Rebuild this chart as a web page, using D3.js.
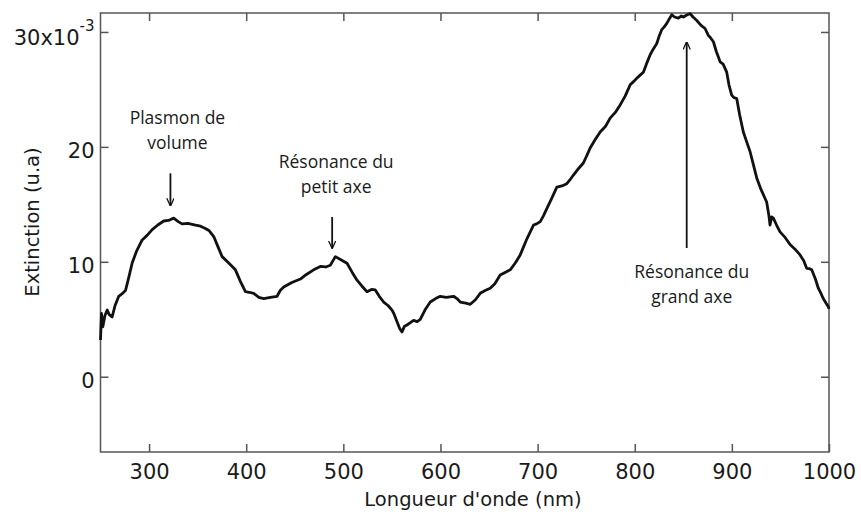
<!DOCTYPE html>
<html>
<head>
<meta charset="utf-8">
<script src="https://cdn.jsdelivr.net/npm/d3@7"></script>
<style>
  body { margin: 0; background: #fff; }
  .tick-label { font-family: "DejaVu Sans", Verdana, sans-serif; font-size: 21px; fill: #1a1a1a; }
  .axis-title { font-family: "DejaVu Sans", Verdana, sans-serif; font-size: 19.5px; fill: #1a1a1a; }
  .note { font-family: "Open Sans", "Noto Sans", sans-serif; font-size: 17.5px; fill: #1a1a1a; }
</style>
</head>
<body>
<div id="chart"></div>
<script>
// wavelength (nm)
const wavelength = [250, 251, 252.4, 254.5, 256.9, 259, 262, 265, 268.8, 272, 275.7, 279, 282.6, 287, 292.9, 298, 303.2, 309, 315.1, 320,
  325.4, 330, 334, 340, 347.7, 353, 358, 362, 366.6, 371, 375.2, 382, 388.9, 394, 399.2, 403, 407.7, 413, 418, 425,
  431.8, 435, 438.6, 447, 455.8, 462, 469.4, 476.3, 482, 486.6, 491.8, 497, 503.8, 509, 514.1, 519, 524.4, 529, 532.9, 537,
  541.5, 546, 550.1, 552, 555.2, 558, 560.4, 563, 565.5, 569, 572.3, 576, 579.2, 584, 589.5, 595, 599.8, 606, 613.5, 617,
  620.4, 626, 630.7, 636, 640.9, 646, 651.2, 656, 661.5, 667, 671.8, 677, 682.1, 689, 695.8, 699, 702.7, 706, 709.6, 715,
  719.8, 725, 730.1, 733, 736.9, 742, 747.1, 751, 754.1, 759, 764.4, 770, 774.7, 780, 785, 790, 795.3, 799, 802.1, 805,
  808.9, 812, 815.8, 819, 822.7, 825, 827.8, 830, 833, 836, 838.2, 841, 845, 848, 850.1, 854, 857, 860, 863.9, 868,
  872.4, 875.8, 878, 881, 884, 887.9, 891, 894.7, 897, 899.8, 902, 905, 908, 911.8, 915, 918.7, 922, 925.6, 930,
  935.8, 938, 939.3, 941, 942.7, 946, 949.6, 955, 959.9, 965, 970.2, 974, 977, 980, 982.2, 986, 989, 992, 994.1, 997, 999.3, 1000];

// extinction (x10^-3)
const extinction = [3.2, 5.5, 4.35, 5.3, 5.8, 5.4, 5.2, 6.2, 7.0, 7.2, 7.5, 8.6, 9.9, 10.9, 11.9, 12.3, 12.8, 13.2, 13.55, 13.6,
  13.8, 13.5, 13.3, 13.35, 13.2, 13.1, 12.9, 12.7, 12.2, 11.3, 10.45, 9.9, 9.3, 8.3, 7.4, 7.35, 7.26, 6.9, 6.8, 6.9,
  7.0, 7.5, 7.8, 8.2, 8.5, 8.9, 9.3, 9.6, 9.55, 9.7, 10.45, 10.2, 9.87, 9.1, 8.4, 7.9, 7.4, 7.6, 7.55, 7.0,
  6.5, 6.2, 5.8, 5.5, 4.8, 4.2, 3.9, 4.4, 4.5, 4.7, 4.9, 4.8, 5.0, 5.8, 6.5, 6.8, 7.0, 6.9, 7.0, 6.8,
  6.5, 6.4, 6.3, 6.7, 7.26, 7.5, 7.7, 8.1, 8.85, 9.1, 9.3, 9.9, 10.6, 12.0, 13.2, 13.3, 13.5, 14.0, 14.65, 15.6,
  16.5, 16.6, 16.8, 17.1, 17.55, 18.1, 18.6, 19.3, 19.9, 20.6, 21.3, 21.8, 22.5, 23.0, 23.65, 24.4, 25.4, 25.7, 25.97, 26.2,
  26.5, 27.2, 28.0, 28.5, 29.0, 29.6, 30.2, 30.4, 30.75, 31.2, 31.5, 31.3, 31.2, 31.4, 31.3, 31.5, 31.6, 31.3, 31.0, 30.6,
  30.3, 29.7, 29.5, 29.15, 28.3, 27.4, 27.2, 26.5, 25.4, 24.5, 24.3, 24.2, 22.8, 21.3, 20.5, 19.6, 18.5, 17.3, 16.3,
  15.2, 14.1, 13.2, 13.9, 13.8, 13.2, 12.6, 12.1, 11.5, 11.1, 10.6, 10.1, 9.43, 9.4, 9.3, 8.5, 7.7, 7.2, 6.8, 6.4, 6.1, 5.9];

const xTicks = [300, 400, 500, 600, 700, 800, 900, 1000];
const yTicks = [0, 10, 20, 30];
const yTickLabels = ["0", "10", "20", "30x10"];

const annotations = [
  { lines: ["Plasmon de", "volume"], nm: 322, from: 17.7, to: 14.9, dir: "down", dx: 7 },
  { lines: ["Résonance du", "petit axe"], nm: 488.5, from: 13.9, to: 11.2, dir: "down", dx: 4 },
  { lines: ["Résonance du", "grand axe"], nm: 853.5, from: 11.2, to: 29.1, dir: "up", dx: 5 }
];

const W = 861, H = 515;
const mLeft = 100.5, mRight = 829, mTop = 13, mBottom = 452;

const svg = d3.select('#chart')
  .append('svg')
  .attr('width', W)
  .attr('height', H);

const x = d3.scaleLinear().domain([250, 1000]).range([mLeft, mRight]);
const y = d3.scaleLinear().domain([-6.55, 31.65]).range([mBottom, mTop]);

const axisColor = '#555';
const tickLen = 8;

// frame
svg.append('rect')
  .attr('x', mLeft).attr('y', mTop)
  .attr('width', mRight - mLeft).attr('height', mBottom - mTop)
  .attr('fill', 'none')
  .attr('stroke', axisColor)
  .attr('stroke-width', 1.5);

// ticks, inward on all four sides
const xAxisB = d3.axisBottom(x).tickValues(xTicks).tickSize(-tickLen).tickFormat(d3.format('d')).tickPadding(12);
const gB = svg.append('g').attr('transform', `translate(0,${mBottom})`).call(xAxisB);
const xAxisT = d3.axisTop(x).tickValues(xTicks.filter(d => d < 1000)).tickSize(-tickLen).tickFormat('');
const gT = svg.append('g').attr('transform', `translate(0,${mTop})`).call(xAxisT);
const yAxisL = d3.axisLeft(y).tickValues(yTicks).tickSize(-tickLen).tickFormat((d, i) => yTickLabels[i]).tickPadding(6);
const gL = svg.append('g').attr('transform', `translate(${mLeft},0)`).call(yAxisL);
const yAxisR = d3.axisRight(y).tickValues(yTicks).tickSize(-tickLen).tickFormat('');
const gR = svg.append('g').attr('transform', `translate(${mRight},0)`).call(yAxisR);

[gB, gT, gL, gR].forEach(g => {
  g.select('.domain').remove();
  g.selectAll('.tick line').attr('stroke', axisColor).attr('stroke-width', 1.5);
  g.selectAll('.tick text').attr('class', 'tick-label').attr('font-family', null).attr('font-size', null);
});
gB.selectAll('.tick text').attr('dy', '0.71em');
gL.selectAll('.tick text').attr('dy', '0.5em');

// exponent on the top label
gL.selectAll('.tick')
  .filter(d => d === 30)
  .select('text')
  .attr('dy', '0.62em')
  .append('tspan')
  .attr('dy', '-14px')
  .attr('font-size', '15px')
  .text('-3');

// axis titles
svg.append('text')
  .attr('class', 'axis-title')
  .attr('text-anchor', 'middle')
  .attr('x', 473)
  .attr('y', 506)
  .text("Longueur d'onde (nm)");

svg.append('text')
  .attr('class', 'axis-title')
  .attr('text-anchor', 'middle')
  .attr('transform', 'translate(39,222) rotate(-90)')
  .text('Extinction (u.a)');

// spectrum
const line = d3.line()
  .x((d, i) => x(wavelength[i]))
  .y(d => y(d));

svg.append('path')
  .datum(extinction)
  .attr('d', line)
  .attr('fill', 'none')
  .attr('stroke', '#111')
  .attr('stroke-width', 2.8)
  .attr('stroke-linejoin', 'round');

// annotations
svg.append('defs').append('marker')
  .attr('id', 'head')
  .attr('viewBox', '0 0 10 10')
  .attr('refX', 9).attr('refY', 5)
  .attr('markerWidth', 8).attr('markerHeight', 8)
  .attr('markerUnits', 'userSpaceOnUse')
  .attr('orient', 'auto')
  .append('path')
  .attr('d', 'M0,0.5 L10,5 L0,9.5')
  .attr('fill', 'none')
  .attr('stroke', '#111')
  .attr('stroke-width', 1.6);

annotations.forEach(a => {
  const ax = x(a.nm);
  svg.append('line')
    .attr('x1', ax).attr('x2', ax)
    .attr('y1', y(a.from)).attr('y2', y(a.to))
    .attr('stroke', '#111')
    .attr('stroke-width', 1.8)
    .attr('marker-end', 'url(#head)');

  // label sits above a down arrow, below an up arrow
  const ty = a.dir === 'down' ? y(a.from) - 49 : y(a.from) + 30;
  const t = svg.append('text')
    .attr('class', 'note')
    .attr('text-anchor', 'middle');
  a.lines.forEach((s, i) => {
    t.append('tspan')
      .attr('x', ax + a.dx)
      .attr('y', ty + 25 * i)
      .text(s);
  });
});
</script>
</body>
</html>
